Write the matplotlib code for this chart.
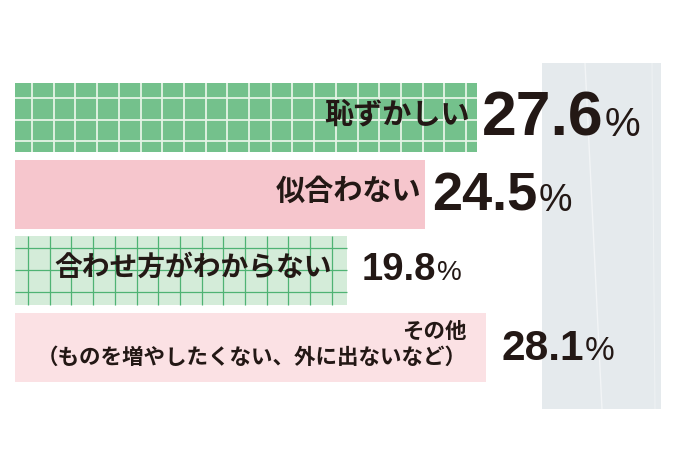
import matplotlib
matplotlib.use('Agg')
import numpy as np
import matplotlib.pyplot as plt
from matplotlib.patches import Rectangle

# data
labels = ['恥ずかしい',
          '似合わない',
          '合わせ方がわからない',
          'その他\n（ものを増やしたくない、外に出ないなど）']
values = [27.6, 24.5, 19.8, 28.1]

# styles per row
bar_colors = ['#74c18c', '#f6c6cd', '#d4ecd9', '#fbe1e4']
grid_colors = ['#e6f4e6', None, '#4fb374', None]
grid_lw = [1.3, 0, 0.9, 0]
label_sizes = [21, 21, 20, 15.5]
label_pad_px = [7, 4, 15, 19]
num_sizes = [45, 39, 27.5, 30.5]
pct_sizes = [29, 27, 20, 24]
num_gap_px = [5, 7, 15, 16]
num_base_px = [18, 16.5, 9.5, 12.5]

ink = '#231815'
px_x = 16.75   # pixels per percent
px_y = 76.67   # pixels per row
cjk = ['Noto Sans CJK JP', 'DejaVu Sans']

fig = plt.figure(figsize=(6.8, 4.53), dpi=100)
ax = fig.add_axes([0, 0, 1, 1])
ax.set_xlim(-15 / px_x, (680 - 15) / px_x)
ax.set_ylim((453 - 117.5) / px_y, -117.5 / px_y)
ax.axis('off')

# grey panel behind the right side
ax.add_patch(Rectangle((542 / 680, 1 - 409 / 453), 119 / 680, 346 / 453,
                       transform=ax.transAxes, color='#e5eaed', zorder=0, lw=0))
ax.plot([585 / 680, 602 / 680], [1 - 63 / 453, 1 - 409 / 453], transform=ax.transAxes,
        color='white', lw=1.0, alpha=0.5, zorder=0.5)
ax.plot([652 / 680, 655 / 680], [1 - 63 / 453, 1 - 409 / 453], transform=ax.transAxes,
        color='white', lw=0.8, alpha=0.35, zorder=0.5)

ypos = np.arange(len(values))
height = 0.9
bars = ax.barh(ypos, values, height=height, color=bar_colors, lw=0, zorder=1)

# graph paper pattern on the green bars
step_x = 21.7 / px_x
step_y = 21.7 / px_y
for i, v in enumerate(values):
    if grid_colors[i] is None:
        continue
    top = ypos[i] - height / 2
    bot = ypos[i] + height / 2
    off_x = (17 if i == 0 else 13) / px_x
    off_y = (15 if i == 0 else 12) / px_y
    xs = np.arange(off_x, v, step_x)
    ys = np.arange(top + off_y, bot, step_y)
    ax.vlines(xs, top, bot, color=grid_colors[i], lw=grid_lw[i], zorder=2)
    ax.hlines(ys, 0, v, color=grid_colors[i], lw=grid_lw[i], zorder=2)

nums = []
for i, (lab, v) in enumerate(zip(labels, values)):
    ax.text(v - label_pad_px[i] / px_x, ypos[i] - 0.04, lab, ha='right', va='center',
            multialignment='right', linespacing=1.25,
            fontsize=label_sizes[i], family=cjk, fontweight='bold', color=ink, zorder=3)
    t = ax.text(v + num_gap_px[i] / px_x, ypos[i] + num_base_px[i] / px_y, f'{v:.1f}',
                ha='left', va='baseline', fontsize=num_sizes[i],
                family=['Liberation Sans', 'DejaVu Sans'], fontweight='bold',
                color=ink, zorder=3)
    nums.append(t)

fig.canvas.draw()
r = fig.canvas.get_renderer()
for i, t in enumerate(nums):
    bb = t.get_window_extent(renderer=r)
    x_end = ax.transData.inverted().transform((bb.x1, 0))[0]
    ax.text(x_end + 1 / px_x, ypos[i] + num_base_px[i] / px_y, '%',
            ha='left', va='baseline', fontsize=pct_sizes[i],
            family=['Liberation Sans', 'DejaVu Sans'], color=ink, zorder=3)

fig.savefig('out.png', dpi=100, facecolor='white')
